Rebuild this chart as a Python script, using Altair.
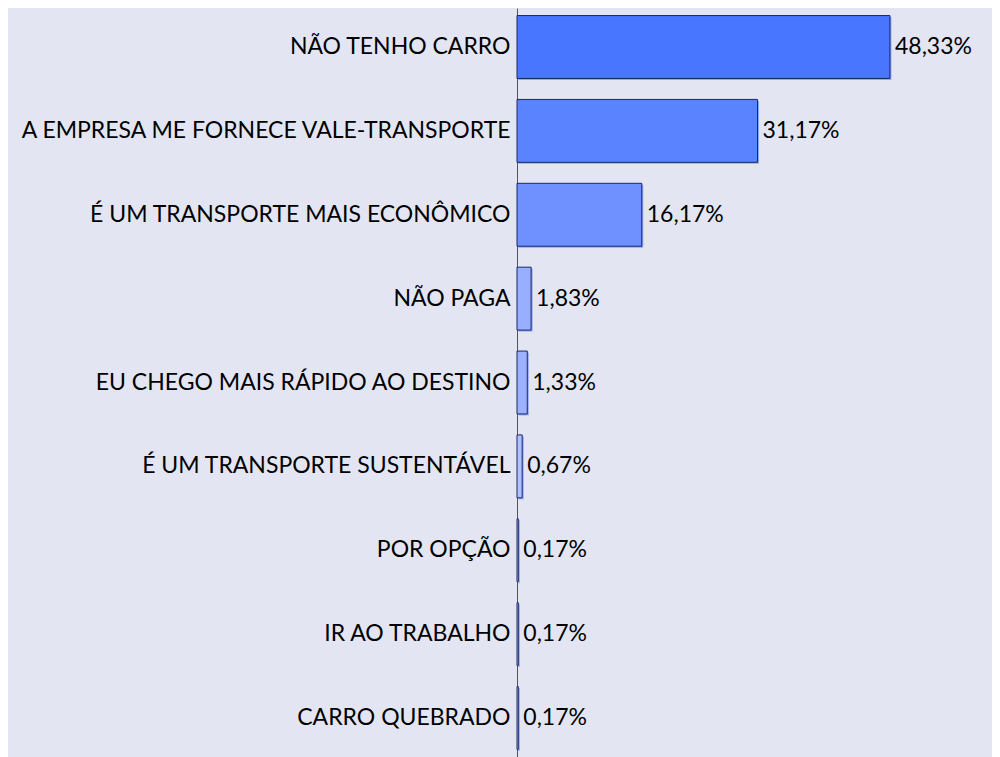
import altair as alt
import pandas as pd

categories = [
    "NÃO TENHO CARRO",
    "A EMPRESA ME FORNECE VALE-TRANSPORTE",
    "É UM TRANSPORTE MAIS ECONÔMICO",
    "NÃO PAGA",
    "EU CHEGO MAIS RÁPIDO AO DESTINO",
    "É UM TRANSPORTE SUSTENTÁVEL",
    "POR OPÇÃO",
    "IR AO TRABALHO",
    "CARRO QUEBRADO",
]
values = [48.33, 31.17, 16.17, 1.83, 1.33, 0.67, 0.17, 0.17, 0.17]
bar_colors = ["#4976FF", "#5A84FF", "#6F91FF", "#98AEFF", "#9DB2FF",
              "#B0C2FF", "#B8C8FF", "#B8C8FF", "#B8C8FF"]

df = pd.DataFrame({"cat": categories, "val": values})
df["label"] = [f"{v:.2f}%".replace(".", ",") for v in values]

FONT = "Lato"
BG = "#E3E6F2"

y_enc = alt.Y("cat:N", sort=categories,
              scale=alt.Scale(paddingInner=0.25, paddingOuter=0.09),
              axis=alt.Axis(title=None, labelFont=FONT, labelFontSize=23,
                            labelColor="#000000", ticks=False, domain=True,
                            domainColor="#555555", domainWidth=1,
                            labelPadding=7, labelLimit=600, grid=False))
x_enc = alt.X("val:Q", scale=alt.Scale(domain=[0, 60]), axis=None)

shadow = alt.Chart(df).mark_bar(color="#6A8CFF", opacity=0.7,
                                xOffset=1.5, x2Offset=1.5,
                                yOffset=1.5, y2Offset=1.5).encode(
    y=y_enc, x=x_enc)

bars = alt.Chart(df).mark_bar(stroke="#1C2660", strokeWidth=1).encode(
    y=y_enc, x=x_enc,
    color=alt.Color("cat:N", scale=alt.Scale(domain=categories, range=bar_colors),
                    legend=None))

text = alt.Chart(df).mark_text(align="left", baseline="middle", dx=5,
                               font=FONT, fontSize=23, color="#000000").encode(
    y=y_enc, x=x_enc, text="label:N")

chart = alt.layer(shadow, bars, text).properties(
    width=463, height=749,
    background=BG,
    padding={"left": 509, "top": 0, "right": 12, "bottom": 0},
    autosize=alt.AutoSizeParams(type="none"),
).configure_view(stroke=None)

chart.save("out.html", embed_options={"renderer": "svg", "actions": False})
